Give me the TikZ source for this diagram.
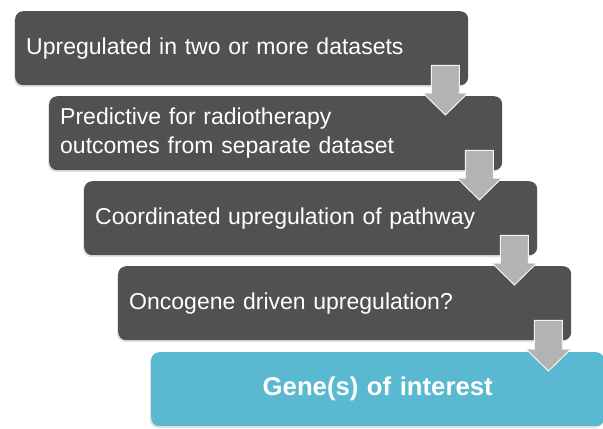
\documentclass[tikz,border=0pt]{standalone}
\usepackage{fontspec}
\setmainfont{Liberation Sans}
\usetikzlibrary{calc,shadows}

\definecolor{stepgray}{HTML}{515151}
\definecolor{arrowgray}{HTML}{B3B3B3}
\definecolor{genecyan}{HTML}{5BB8D1}

\tikzset{
	stepbox/.style={rectangle, rounded corners=8bp, fill=stepgray, text=white, anchor=north west,
		minimum height=74bp, text width=431bp, inner xsep=11bp, inner ysep=0pt, align=left,
		font=\fontsize{23.1}{29}\selectfont,
		drop shadow={shadow xshift=-1.2bp, shadow yshift=-1.8bp, opacity=0.22}},
	genebox/.style={stepbox, fill=genecyan, align=center, font=\bfseries\fontsize{25.8}{31}\selectfont},
	downarrow/.style={fill=arrowgray, draw=white!85!arrowgray, line width=1bp}
}

% block arrow from one step to the next
\newcommand{\steparrow}[2]{%
	\draw[downarrow] let \p1=(#1.south east), \p2=(#2.north) in
		(\x1-37bp,\y1+20bp) -- (\x1-9bp,\y1+20bp) -- (\x1-9bp,\y2+3bp) -- (\x1-0.5bp,\y2+3bp)
		-- (\x1-23bp,\y2-19bp) -- (\x1-45.5bp,\y2+3bp) -- (\x1-37bp,\y2+3bp) -- cycle;}

\begin{document}
\begin{tikzpicture}[x=1bp,y=-1bp]
	\useasboundingbox (0,0) rectangle (603,428);
	%steps
	\node[stepbox] (s1) at (15,11) {Upregulated in two or more datasets};
	\node[stepbox] (s2) at (49,96) {Predictive for radiotherapy\\outcomes from separate dataset};
	\node[stepbox] (s3) at (84,181) {Coordinated upregulation of pathway};
	\node[stepbox] (s4) at (118,266) {Oncogene driven upregulation?};
	%result
	\node[genebox] (goi) at (151,352) {Gene(s) of interest};
	%arrows
	\steparrow{s1}{s2}
	\steparrow{s2}{s3}
	\steparrow{s3}{s4}
	\steparrow{s4}{goi}
\end{tikzpicture}
\end{document}
